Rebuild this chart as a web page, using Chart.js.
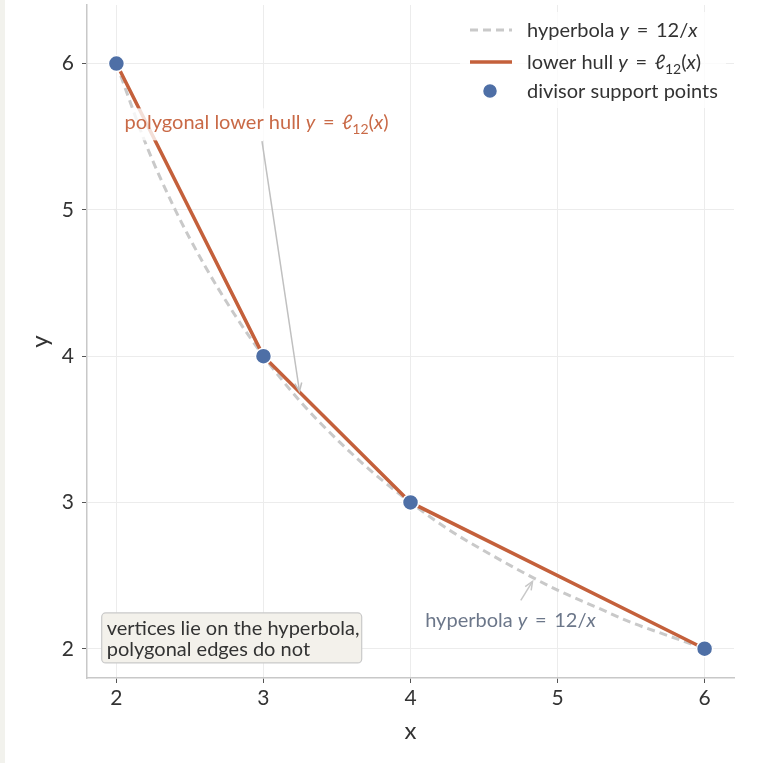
<!DOCTYPE html>
<html>
<head>
<meta charset="utf-8">
<script src="https://cdn.jsdelivr.net/npm/chart.js@4.4.1/dist/chart.umd.min.js"></script>
<style>
  html, body { margin: 0; padding: 0; background: #ffffff; overflow: hidden; }
  #wrap { position: relative; width: 784px; height: 763px; background: #ffffff; }
  #strip { position: absolute; left: 0; top: 0; width: 5px; height: 763px; background: #f2f2ed; }
  canvas { display: block; }
</style>
</head>
<body>
<div id="wrap">
  <div id="strip"></div>
  <canvas id="hullChart" width="784" height="763"></canvas>
</div>
<script>
// hyperbola y = 12/x
const hypX = [2, 2.2, 2.4, 2.6, 2.8, 3, 3.25, 3.5, 3.75, 4, 4.25, 4.5, 4.75, 5, 5.25, 5.5, 5.75, 6];
const hypY = [6, 5.45, 5, 4.62, 4.29, 4, 3.69, 3.43, 3.2, 3, 2.82, 2.67, 2.53, 2.4, 2.29, 2.18, 2.09, 2];

// divisor support points / hull vertices
const hullX = [2, 3, 4, 6];
const hullY = [6, 4, 3, 2];

const tickVals = [2, 3, 4, 5, 6];

const HULL = "#c4603b";
const DOT = "#4e6fa6";
const HYP = "#c9c9c9";
const TEXT = "#333333";
const FONT = "Lato, 'Noto Sans', sans-serif";
const FS = 20;

function pts(xs, ys) {
    return xs.map((x, i) => ({ x: x, y: ys[i] }));
}

// draws text made of pieces: {t, it, sub}
function richText(ctx, x, y, parts, size, color) {
    ctx.save();
    ctx.fillStyle = color;
    ctx.textBaseline = "alphabetic";
    ctx.textAlign = "left";
    let cx = x;
    parts.forEach(p => {
        const fs = p.sub ? size * 0.7 : size;
        ctx.font = (p.it ? "italic " : "") + fs + "px " + FONT;
        ctx.fillText(p.t, cx, y + (p.sub ? size * 0.25 : 0));
        cx += ctx.measureText(p.t).width;
    });
    ctx.restore();
    return cx - x;
}

function arrow(ctx, x1, y1, x2, y2, color) {
    ctx.save();
    ctx.strokeStyle = color;
    ctx.lineWidth = 1.5;
    ctx.beginPath();
    ctx.moveTo(x1, y1);
    ctx.lineTo(x2, y2);
    ctx.stroke();
    const a = Math.atan2(y2 - y1, x2 - x1);
    const h = 9;
    ctx.beginPath();
    ctx.moveTo(x2 - h * Math.cos(a - 0.4), y2 - h * Math.sin(a - 0.4));
    ctx.lineTo(x2, y2);
    ctx.lineTo(x2 - h * Math.cos(a + 0.4), y2 - h * Math.sin(a + 0.4));
    ctx.stroke();
    ctx.restore();
}

const EQ = "\u2009=\u2009";
const ellPart = [{ t: "ℓ", it: true }, { t: "12", sub: true }, { t: "(" }, { t: "x", it: true }, { t: ")" }];
const hullLabel = [{ t: "polygonal lower hull " }, { t: "y", it: true }, { t: " " + EQ + " " }].concat(ellPart);
const hypLabel = [{ t: "hyperbola " }, { t: "y", it: true }, { t: " " + EQ + " 12/" }, { t: "x", it: true }];
const legHull = [{ t: "lower hull " }, { t: "y", it: true }, { t: " " + EQ + " " }].concat(ellPart);

const annotations = {
    id: "annotations",
    afterDatasetsDraw(chart) {
        const ctx = chart.ctx;
        const xs = chart.scales.x, ys = chart.scales.y;
        const px = v => xs.getPixelForValue(v);
        const py = v => ys.getPixelForValue(v);

        // hull label with a light box behind it
        const tx = px(2.055), ty = py(5.55);
        ctx.save();
        ctx.fillStyle = "rgba(255,255,255,0.8)";
        ctx.fillRect(tx - 4, ty - 21, 274, 32);
        ctx.restore();
        richText(ctx, tx, ty, hullLabel, FS, "#c96a47");
        arrow(ctx, px(2.99), py(5.47), px(3.245), py(3.76), "#c0c0c0");

        // hyperbola label
        richText(ctx, px(4.1), py(2.15), hypLabel, FS, "#6c778a");
        arrow(ctx, px(4.75), py(2.33), px(4.83), py(2.46), "#c8c8c8");

        // note box
        const bx = px(1.9), by = py(2.245);
        ctx.save();
        ctx.fillStyle = "#f3f1eb";
        ctx.strokeStyle = "#c9c9c9";
        ctx.lineWidth = 1.2;
        ctx.beginPath();
        ctx.roundRect(bx, by, 260, 50, 4);
        ctx.fill();
        ctx.stroke();
        ctx.restore();
        richText(ctx, bx + 5, by + 22, [{ t: "vertices lie on the hyperbola," }], FS, TEXT);
        richText(ctx, bx + 5, by + 43, [{ t: "polygonal edges do not" }], FS, TEXT);

        // legend, top right
        const lx = 470, tx2 = 527;
        ctx.save();
        ctx.fillStyle = "rgba(255,255,255,0.8)";
        ctx.fillRect(460, 12, 266, 96);
        ctx.lineWidth = 3;
        ctx.strokeStyle = HYP;
        ctx.setLineDash([8, 5]);
        ctx.beginPath(); ctx.moveTo(lx, 30); ctx.lineTo(lx + 42, 30); ctx.stroke();
        ctx.setLineDash([]);
        ctx.lineWidth = 3.5;
        ctx.strokeStyle = HULL;
        ctx.beginPath(); ctx.moveTo(lx, 62); ctx.lineTo(lx + 42, 62); ctx.stroke();
        ctx.fillStyle = DOT;
        ctx.strokeStyle = "#ffffff";
        ctx.lineWidth = 1.5;
        ctx.beginPath(); ctx.arc(lx + 20, 91, 7.5, 0, Math.PI * 2); ctx.fill(); ctx.stroke();
        ctx.restore();
        richText(ctx, tx2, 37, hypLabel, FS, TEXT);
        richText(ctx, tx2, 69, legHull, FS, TEXT);
        richText(ctx, tx2, 98, [{ t: "divisor support points" }], FS, TEXT);
    }
};

const axisCommon = {
    type: "linear",
    min: 1.8,
    afterBuildTicks: s => { s.ticks = tickVals.map(v => ({ value: v })); },
    grid: { color: "#ececec", lineWidth: 1, tickColor: "#555555", tickLength: 5 },
    border: { color: "#c8c8c8", width: 1.5 },
    ticks: { color: TEXT, font: { family: FONT, size: 21 } },
    title: { display: true, color: TEXT, font: { family: FONT, size: 24 } }
};

new Chart(document.getElementById("hullChart").getContext("2d"), {
    type: "scatter",
    data: {
        datasets: [
            {
                label: "divisor support points",
                data: pts(hullX, hullY),
                backgroundColor: DOT,
                borderColor: "#ffffff",
                borderWidth: 1.5,
                pointRadius: 8,
                order: 0
            },
            {
                label: "lower hull",
                data: pts(hullX, hullY),
                showLine: true,
                borderColor: HULL,
                borderWidth: 3.5,
                pointRadius: 0,
                order: 1
            },
            {
                label: "hyperbola",
                data: pts(hypX, hypY),
                showLine: true,
                borderColor: HYP,
                borderWidth: 3,
                borderDash: [8, 5],
                cubicInterpolationMode: "monotone",
                pointRadius: 0,
                order: 2
            }
        ]
    },
    options: {
        responsive: false,
        animation: false,
        layout: { autoPadding: false, padding: { left: 5, top: 5, right: 50, bottom: 0 } },
        plugins: { legend: { display: false }, tooltip: { enabled: false } },
        scales: {
            x: Object.assign({}, axisCommon, {
                max: 6.2,
                position: "bottom",
                ticks: Object.assign({}, axisCommon.ticks, { padding: 3, maxRotation: 0 }),
                title: Object.assign({}, axisCommon.title, { text: "x", padding: { top: 0, bottom: 17 } }),
                afterFit: s => { s.height = 85; s.paddingLeft = 0; s.paddingRight = 0; }
            }),
            y: Object.assign({}, axisCommon, {
                max: 6.4,
                position: "left",
                ticks: Object.assign({}, axisCommon.ticks, { padding: 8 }),
                title: Object.assign({}, axisCommon.title, { text: "y", padding: { top: 21, bottom: 0 } }),
                afterFit: s => { s.width = 82; s.paddingTop = 0; s.paddingBottom = 0; }
            })
        }
    },
    plugins: [annotations]
});
</script>
</body>
</html>
